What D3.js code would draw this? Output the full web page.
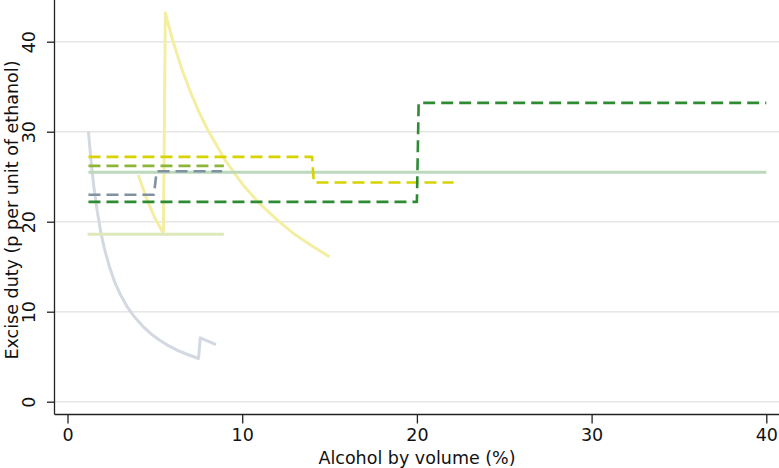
<!DOCTYPE html>
<html>
<head>
<meta charset="utf-8">
<script src="https://cdn.jsdelivr.net/npm/d3@7"></script>
<style>
  html, body { margin: 0; padding: 0; background: #fff; }
  svg { display: block; }
  text { font-family: "DejaVu Sans", sans-serif; fill: #111; }
</style>
</head>
<body>
<svg id="chart" width="779" height="468"></svg>
<script>
// ---------- data ----------
const xTicks = [0, 10, 20, 30, 40];
const yTicks = [0, 10, 20, 30, 40];
const xTitle = "Alcohol by volume (%)";
const yTitle = "Excise duty (p per unit of ethanol)";

// light grey curve
const greyCurveX = [1.2, 1.35, 1.5, 1.7, 1.9, 2.1, 2.4, 2.7, 3.0, 3.4, 3.8, 4.3, 4.8, 5.3, 5.8, 6.3, 6.8, 7.5, 7.6, 8.0, 8.5];
const greyCurveY = [30.0, 26.7, 24.0, 21.2, 18.9, 17.1, 15.0, 13.3, 12.0, 10.6, 9.5, 8.4, 7.5, 6.8, 6.2, 5.7, 5.3, 4.8, 7.1, 6.75, 6.35];

// light yellow curve
const yellowCurveX = [4.05, 4.5, 5.0, 5.49, 5.6, 6.0, 6.5, 7.0, 7.5, 8.0, 9.0, 10.0, 11.0, 12.0, 13.0, 14.0, 15.0];
const yellowCurveY = [25.2, 22.7, 20.4, 18.7, 43.2, 40.3, 37.2, 34.6, 32.3, 30.3, 26.9, 24.2, 22.0, 20.2, 18.6, 17.3, 16.1];

// light green flat line
const paleGreenX = [1.15, 8.95];
const paleGreenY = [18.6, 18.6];

// grey-green flat line
const sageX = [1.2, 40.0];
const sageY = [25.5, 25.5];

// yellow dashed step
const yellowDashX = [1.2, 14.0, 14.1, 22.1];
const yellowDashY = [27.2, 27.2, 24.35, 24.35];

// olive dashed
const oliveDashX = [1.2, 8.95];
const oliveDashY = [26.2, 26.2];

// slate dashed step
const slateDashX = [1.2, 4.95, 5.1, 8.85];
const slateDashY = [23.0, 23.0, 25.6, 25.6];

// dark green dashed step
const darkGreenDashX = [1.2, 20.0, 20.1, 40.0];
const darkGreenDashY = [22.2, 22.2, 33.2, 33.2];

const series = [
  { name: "grey",      xs: greyCurveX,     ys: greyCurveY,     color: "#d3d8e1", width: 3,   dash: null },
  { name: "yellow",    xs: yellowCurveX,   ys: yellowCurveY,   color: "#f4eea3", width: 3,   dash: null },
  { name: "paleGreen", xs: paleGreenX,     ys: paleGreenY,     color: "#dde8bb", width: 3,   dash: null },
  { name: "sage",      xs: sageX,          ys: sageY,          color: "#bcd9bc", width: 3,   dash: null },
  { name: "yellowD",   xs: yellowDashX,    ys: yellowDashY,    color: "#d6d300", width: 2.6, dash: "12,6" },
  { name: "oliveD",    xs: oliveDashX,     ys: oliveDashY,     color: "#8cb53a", width: 2.6, dash: "12,6" },
  { name: "slateD",    xs: slateDashX,     ys: slateDashY,     color: "#8091a1", width: 2.6, dash: "12,6" },
  { name: "darkGreenD",xs: darkGreenDashX, ys: darkGreenDashY, color: "#2f8b33", width: 2.6, dash: "12,6" }
];

// ---------- layout ----------
const svg = d3.select("#chart");
const W = 779, H = 468;
const axisX = 54.5;   // y-axis line position
const axisY = 414.5;  // x-axis line position
const fs = 17.5;

const x = d3.scaleLinear().domain([0, 40]).range([67.5, 766.3]);
const y = d3.scaleLinear().domain([0, 40]).range([401.7, 41.7]);

// gridlines
svg.append("g").selectAll("line").data(yTicks).join("line")
  .attr("x1", axisX).attr("x2", W)
  .attr("y1", d => y(d)).attr("y2", d => y(d))
  .attr("stroke", "#e6e6e6").attr("stroke-width", 1.5);

// series
const line = d3.line().x(d => x(d[0])).y(d => y(d[1]));
const g = svg.append("g");
series.forEach(s => {
  const pts = s.xs.map((v, i) => [v, s.ys[i]]);
  g.append("path")
    .attr("d", line(pts))
    .attr("fill", "none")
    .attr("stroke", s.color)
    .attr("stroke-width", s.width)
    .attr("stroke-linejoin", "round")
    .attr("stroke-dasharray", s.dash);
});

// x axis
const xAxis = d3.axisBottom(x).tickValues(xTicks).tickSize(9).tickSizeOuter(0).tickPadding(5);
const gx = svg.append("g").attr("transform", `translate(0,${axisY})`).call(xAxis);
gx.select(".domain").remove();
gx.append("line").attr("x1", axisX).attr("x2", W).attr("y1", 0).attr("y2", 0)
  .attr("stroke", "#222").attr("stroke-width", 1.3);
gx.selectAll(".tick line").attr("stroke", "#222").attr("stroke-width", 1.3);
gx.selectAll(".tick text").attr("font-size", fs).attr("font-family", "DejaVu Sans").attr("fill", "#111");

// y axis
const yAxis = d3.axisLeft(y).tickValues(yTicks).tickSize(7.5).tickSizeOuter(0).tickPadding(0);
const gy = svg.append("g").attr("transform", `translate(${axisX},0)`).call(yAxis);
gy.select(".domain").remove();
gy.append("line").attr("x1", 0).attr("x2", 0).attr("y1", 0).attr("y2", axisY)
  .attr("stroke", "#222").attr("stroke-width", 1.3);
gy.selectAll(".tick line").attr("stroke", "#222").attr("stroke-width", 1.3);
gy.selectAll(".tick text")
  .attr("font-size", fs).attr("font-family", "DejaVu Sans").attr("fill", "#111")
  .attr("x", null).attr("dy", null)
  .attr("text-anchor", "middle")
  .attr("transform", "translate(-19.5,0) rotate(-90)");

// titles
svg.append("text")
  .attr("x", 417).attr("y", 463.5)
  .attr("text-anchor", "middle")
  .attr("font-size", fs)
  .text(xTitle);

svg.append("text")
  .attr("transform", `translate(18,210) rotate(-90)`)
  .attr("text-anchor", "middle")
  .attr("font-size", fs)
  .text(yTitle);
</script>
</body>
</html>
